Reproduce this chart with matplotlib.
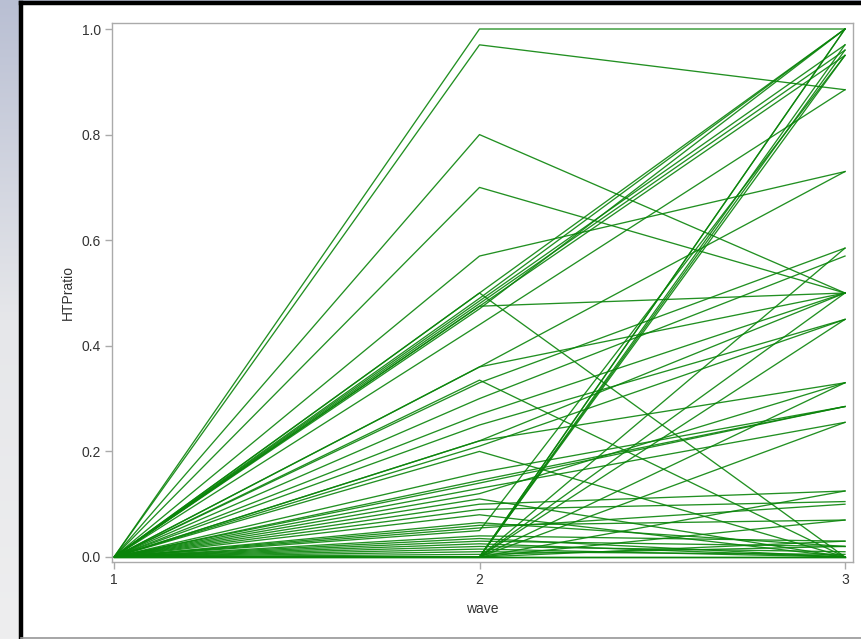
import numpy as np
import matplotlib
matplotlib.use("Agg")
import matplotlib.pyplot as plt
from matplotlib.patches import Rectangle

# wave numbers on the x axis
waves = [1, 2, 3]

# HTPratio per subject at wave 2 and wave 3 (wave 1 is 0 for everyone)
ratio_w2 = [1.00, 0.97, 0.80, 0.70, 0.57,
            0.50, 0.49, 0.485, 0.48, 0.475, 0.47,
            0.50, 0.475, 0.44, 0.36, 0.36, 0.335,
            0.33, 0.30, 0.27, 0.25, 0.22, 0.21, 0.20, 0.22,
            0.16, 0.145, 0.14, 0.13, 0.12, 0.11,
            0.10, 0.09, 0.08, 0.065, 0.06, 0.055, 0.05,
            0.04, 0.035, 0.03, 0.025, 0.02, 0.015, 0.01, 0.005,
            0.0, 0.0, 0.0, 0.0, 0.0, 0.0, 0.0, 0.0,
            0.0, 0.0, 0.0, 0.0, 0.0, 0.0, 0.0, 0.0]
ratio_w3 = [1.00, 0.885, 0.50, 0.50, 0.73,
            1.00, 1.00, 0.97, 0.96, 0.95, 1.00,
            0.00, 0.50, 0.885, 0.73, 0.50, 0.00,
            0.585, 0.57, 0.50, 0.45, 0.50, 0.45, 0.00, 0.33,
            0.285, 0.285, 0.285, 0.255, 0.33, 0.00,
            0.125, 0.105, 0.00, 0.02, 0.07, 0.10, 0.95,
            0.03, 0.00, 0.02, 0.00, 0.01, 0.00, 0.005, 0.02,
            1.00, 1.00, 0.97, 0.96, 0.95, 0.585, 0.50, 0.45,
            0.33, 0.255, 0.125, 0.07, 0.03, 0.00, 0.00, 0.00]

ytick_vals = [0.0, 0.2, 0.4, 0.6, 0.8, 1.0]


def plot_results():
    plt.rcParams['font.family'] = ['Liberation Sans', 'DejaVu Sans']

    fig = plt.figure(figsize=(8.61, 6.39), dpi=100)

    # slide background behind the pasted graph
    bg = fig.add_axes([0, 0, 1, 1], zorder=-10)
    grad = np.linspace(0, 1, 256).reshape(-1, 1)
    bg.imshow(grad, aspect='auto', extent=[0, 1, 0, 1],
              cmap=matplotlib.colors.LinearSegmentedColormap.from_list(
                  'slide', ['#b9bfd3', '#e6e7ea', '#eeeeef']))
    bg.set_axis_off()

    # white graph frame with a thick black border
    fig.patches.append(Rectangle((21 / 861, 2 / 639), 1.0, 634 / 639,
                                 transform=fig.transFigure, facecolor='white',
                                 edgecolor='none', zorder=-5))
    fig.lines.append(plt.Line2D([21 / 861, 21 / 861], [2 / 639, 636 / 639],
                                transform=fig.transFigure, color='black', lw=3.2))
    fig.lines.append(plt.Line2D([21 / 861, 1.0], [636 / 639, 636 / 639],
                                transform=fig.transFigure, color='black', lw=3.2))
    fig.lines.append(plt.Line2D([21 / 861, 1.0], [1.5 / 639, 1.5 / 639],
                                transform=fig.transFigure, color='#9a9a9a', lw=1.2))

    ax = fig.add_axes([112 / 861, 77 / 639, 741 / 861, 539 / 639])
    ax.set_facecolor('white')

    for v2, v3 in zip(ratio_w2, ratio_w3):
        ax.plot(waves, [0.0, v2, v3], color='#0a840a', lw=0.95, alpha=0.9)

    ax.set_xlim(1 - 2 / 365.5, 3 + 8 / 365.5)
    ax.set_ylim(-5 / 528, 1 + 6 / 528)
    ax.set_xticks(waves)
    ax.set_yticks(ytick_vals)
    ax.set_yticklabels(['%.1f' % v for v in ytick_vals])

    for s in ax.spines.values():
        s.set_color('#aaaaaa')
        s.set_linewidth(1.0)
    ax.tick_params(colors='#aaaaaa', labelcolor='#333333', length=5,
                   width=1.0, labelsize=10, pad=3)
    ax.set_xlabel('wave', fontsize=10, color='#333333', labelpad=11)
    ax.set_ylabel('HTPratio', fontsize=10, color='#333333', labelpad=5)

    fig.savefig('out.png', dpi=100)


if __name__ == "__main__":
    plot_results()
